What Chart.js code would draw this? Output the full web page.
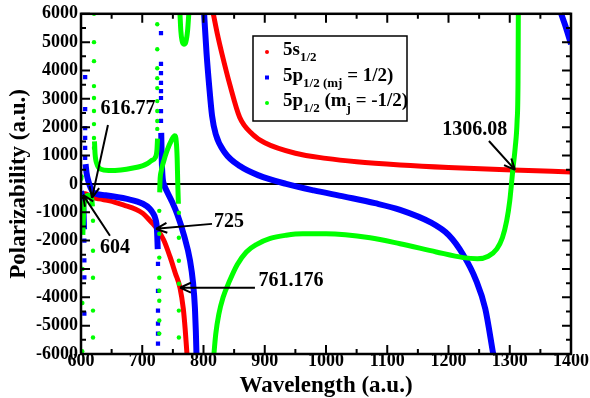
<!DOCTYPE html>
<html>
<head>
<meta charset="utf-8">
<script src="https://cdn.jsdelivr.net/npm/chart.js@4.4.0/dist/chart.umd.min.js"></script>
<style>
  html, body { margin: 0; padding: 0; background: #fff; }
</style>
</head>
<body>
<canvas id="chart" width="590" height="398"></canvas>
<script>
// axis ticks
const xTicks = [600, 700, 800, 900, 1000, 1100, 1200, 1300, 1400];
const yTicks = [-6000, -5000, -4000, -3000, -2000, -1000, 0, 1000, 2000, 3000, 4000, 5000, 6000];

// 5s1/2 (red)
const redLow = [[604,-330],[611,-380],[618,-470],[630,-530],[647,-600],[670,-750],[690,-900],[701,-1040],[712,-1280],[718,-1420],[724,-1580],[735,-1980],[745,-2550],[754,-3150],[761.6,-3660],[767,-4400],[770,-5100],[773,-6000]];
const redHigh = [[816,6000],[823,5250],[830,4600],[843,3500],[859,2350],[880,1750],[900,1450],[950,1080],[1000,900],[1050,780],[1121,669],[1200,580],[1305,493],[1400,422]];

// 5p1/2 mj = 1/2 (blue)
const blueA = [[600,-260],[601.5,-380],[603,-600],[604,-900],[605,-1600]];
const blueB = [[607.5,700],[609,400],[612,100],[616,-150],[620,-300],[640,-400],[675,-530],[701,-700],[712,-870],[718,-1050],[721,-1200],[724,-1600],[725.3,-2300]];
const blueC = [[731,1800],[731.8,900],[733,300],[736,-50],[740,-250],[748,-600],[757,-1060],[768,-1800],[778,-2700],[783,-3500],[786,-4370],[787.5,-5200],[788.5,-6000]];
const blueD = [[801,6000],[805,4600],[809.5,3400],[814,2400],[820,1750],[835,1100],[860,620],[890,300],[935,0],[980,-230],[1030,-450],[1080,-680],[1121,-915],[1170,-1350],[1200,-1800],[1224,-2500],[1245,-3400],[1260,-4400],[1273,-6000]];
const blueE = [[1384,6000],[1392,5500],[1400,4930]];
const blueDots = [[605.5,-2000],[605.5,-2700],[605.5,-3300],[605.5,-4580],
  [606.8,3770],[606.8,2640],[606.8,1970],[606.8,1620],[606.8,1270],[606.8,920],
  [725.7,-2820],[725.7,-3770],[725.7,-4470],[725.7,-4930],[725.7,-5280],[725.7,-5630],
  [730.6,5320],[730.6,4230],[730.6,3910],[730.6,3560],[730.6,3270],[730.6,3030],[730.6,2570],[730.6,2220]];

// 5p1/2 mj = -1/2 (green)
const greenA = [[603,-1800],[604.5,-900],[607,-550],[611,-400],[615,-420],[617.5,-520],[618.7,-800]];
const greenB = [[622,1500],[623,1050],[626,700],[632,520],[645,470],[665,490],[685,560],[700,640],[707,700],[715,820],[721,920],[724,1200],[725,1600]];
const greenC = [[728.5,-300],[729,100],[731,450],[735,800],[740,1150],[748,1550],[753,1700],[755.5,1500],[757,900],[758,0],[759,-700]];
const greenD = [[761.6,6000],[763,5400],[765,5050],[768,4930],[771,5000],[774,5400],[776,6000]];
const greenE = [[817,-6000],[820,-5300],[825,-4600],[832,-4000],[843,-3400],[855,-2850],[870,-2400],[887,-2130],[909,-1920],[935,-1810],[962,-1760],[1000,-1760],[1072,-1900],[1121,-2110],[1180,-2400],[1224,-2600],[1247,-2640],[1265,-2550],[1279,-2290],[1288,-1900],[1295,-1300],[1300,-600],[1305,490],[1309,1300],[1312,2220],[1313.5,3620],[1314,6000]];
const greenDots = [[600.5,180],[601,260],[602,-5900],[602.2,-4200],[602.5,-3000],
  [619.6,-1300],[619.6,-2360],[619.6,-3310],[619.6,-4470],[619.6,-5420],
  [621.2,6000],[621.2,5000],[621.2,4330],[621.2,3450],[621.2,3030],[621.2,2570],[621.2,2110],[621.2,1620],[621.2,1270],
  [724.5,5630],[724.5,4750],[724.5,4080],[724.5,3730],[724.5,3380],[724.5,2920],[724.5,2570],[724.5,2220],[724.5,1940],
  [727.8,-950],[727.8,-1760],[727.8,-2600],[727.8,-3310],[727.8,-3770],[727.8,-4120],[727.8,-4820],[727.8,-5280],
  [759.8,-1020],[759.8,-1900],[759.8,-2710],[759.8,-3520],[759.8,-4470],[759.8,-5420]];

// legend text: [text, isSubscript]
const legendColors = ['#ff0000', '#0000ff', '#00ff00'];
const legendLabels = [
  [['5s',0],['1/2',1]],
  [['5p',0],['1/2 (mj',1],[' = 1/2)',0]],
  [['5p',0],['1/2',1],[' (m',0],['j',1],[' = -1/2)',0]]
];

// annotations: label, arrow tip (x,y), arrow tail (x,y), label centre (x,y)
const annLabels = ['616.77', '604', '725', '761.176', '1306.08'];
const annTip = [[618,-493],[603.3,-387],[722.4,-1585],[761.6,-3660],[1308.6,493]];
const annTail = [[644,2080],[647.3,-1830],[813.9,-1410],[884,-3660],[1266,1514]];
const annText = [[676.7,2640],[655.5,-2250],[841.6,-1340],[942.9,-3415],[1243,1900]];

const serif = '"Liberation Serif", "Times New Roman", serif';

function line(data, color, width) {
  return { data: data, showLine: true, borderColor: color, borderWidth: width,
    pointRadius: 0, cubicInterpolationMode: 'monotone', clip: 0,
    order: color === '#00ff00' ? 1 : (color === '#0000ff' ? 2 : 3) };
}
function dots(data, color, style, r) {
  return { data: data, showLine: false, backgroundColor: color, borderColor: color, borderWidth: 0,
    pointStyle: style, pointRadius: r, clip: 0, order: color === '#00ff00' ? 1 : 2 };
}

function arrow(ctx, x1, y1, x2, y2) {
  const ang = Math.atan2(y2 - y1, x2 - x1);
  ctx.beginPath();
  ctx.moveTo(x1, y1);
  ctx.lineTo(x2, y2);
  [-1, 1].forEach(s => {
    ctx.moveTo(x2, y2);
    ctx.lineTo(x2 - 12 * Math.cos(ang + s * 0.42), y2 - 12 * Math.sin(ang + s * 0.42));
  });
  ctx.stroke();
}

const extras = {
  id: 'extras',
  beforeDatasetsDraw(chart) {
    const { ctx, chartArea: a, scales: { y } } = chart;
    const y0 = y.getPixelForValue(0);
    ctx.save();
    ctx.strokeStyle = '#000';
    ctx.lineWidth = 2;
    ctx.beginPath(); ctx.moveTo(a.left, y0); ctx.lineTo(a.right, y0); ctx.stroke();
    ctx.restore();
  },
  afterDatasetsDraw(chart) {
    const { ctx, chartArea: a, scales: { x, y } } = chart;
    ctx.save();
    // frame
    ctx.strokeStyle = '#000';
    ctx.lineWidth = 2.5;
    ctx.strokeRect(a.left, a.top, a.right - a.left, a.bottom - a.top);
    // inward ticks, all four sides
    ctx.lineWidth = 2;
    ctx.beginPath();
    for (let i = 0; i < xTicks.length; i++) {
      const px = x.getPixelForValue(xTicks[i]);
      ctx.moveTo(px, a.bottom); ctx.lineTo(px, a.bottom - 9);
      ctx.moveTo(px, a.top); ctx.lineTo(px, a.top + 9);
      if (i < xTicks.length - 1) {
        const pm = x.getPixelForValue((xTicks[i] + xTicks[i + 1]) / 2);
        ctx.moveTo(pm, a.bottom); ctx.lineTo(pm, a.bottom - 5);
        ctx.moveTo(pm, a.top); ctx.lineTo(pm, a.top + 5);
      }
    }
    for (let i = 0; i < yTicks.length; i++) {
      const py = y.getPixelForValue(yTicks[i]);
      ctx.moveTo(a.left, py); ctx.lineTo(a.left + 9, py);
      ctx.moveTo(a.right, py); ctx.lineTo(a.right - 9, py);
      if (i < yTicks.length - 1) {
        const pm = y.getPixelForValue((yTicks[i] + yTicks[i + 1]) / 2);
        ctx.moveTo(a.left, pm); ctx.lineTo(a.left + 5, pm);
        ctx.moveTo(a.right, pm); ctx.lineTo(a.right - 5, pm);
      }
    }
    ctx.stroke();

    // annotations
    ctx.lineWidth = 2;
    ctx.fillStyle = '#000';
    ctx.font = 'bold 20px ' + serif;
    ctx.textAlign = 'center';
    ctx.textBaseline = 'middle';
    annLabels.forEach((t, i) => {
      arrow(ctx, x.getPixelForValue(annTail[i][0]), y.getPixelForValue(annTail[i][1]),
        x.getPixelForValue(annTip[i][0]), y.getPixelForValue(annTip[i][1]));
      ctx.fillText(t, x.getPixelForValue(annText[i][0]), y.getPixelForValue(annText[i][1]));
    });

    // legend
    const lx = 253, ly = 36, lw = 154, lh = 85;
    ctx.fillStyle = '#fff';
    ctx.fillRect(lx, ly, lw, lh);
    ctx.lineWidth = 1.5;
    ctx.strokeRect(lx, ly, lw, lh);
    ctx.textAlign = 'left';
    ctx.textBaseline = 'alphabetic';
    legendLabels.forEach((parts, i) => {
      const base = 55 + i * 25.5;
      ctx.fillStyle = legendColors[i];
      if (i === 1) ctx.fillRect(265, base - 5, 4, 4);
      else { ctx.beginPath(); ctx.arc(267, base - 3, 2, 0, Math.PI * 2); ctx.fill(); }
      ctx.fillStyle = '#000';
      let cx = 283;
      parts.forEach(([t, sub]) => {
        ctx.font = sub ? 'bold 13px ' + serif : 'bold 19px ' + serif;
        ctx.fillText(t, cx, sub ? base + 6 : base);
        cx += ctx.measureText(t).width;
      });
    });
    ctx.restore();
  }
};

new Chart(document.getElementById('chart'), {
  type: 'scatter',
  data: {
    datasets: [
      line(redLow, '#ff0000', 5), line(redHigh, '#ff0000', 5),
      line(blueA, '#0000ff', 6), line(blueB, '#0000ff', 6), line(blueC, '#0000ff', 6),
      line(blueD, '#0000ff', 6), line(blueE, '#0000ff', 6),
      dots(blueDots, '#0000ff', 'rect', 3),
      line(greenA, '#00ff00', 5), line(greenB, '#00ff00', 5), line(greenC, '#00ff00', 5),
      line(greenD, '#00ff00', 5), line(greenE, '#00ff00', 5),
      dots(greenDots, '#00ff00', 'circle', 2.2)
    ]
  },
  options: {
    responsive: false,
    animation: false,
    layout: { padding: { top: 12, right: 19, left: 0, bottom: 0 } },
    plugins: { legend: { display: false }, tooltip: { enabled: false } },
    scales: {
      x: {
        type: 'linear', min: 600, max: 1400,
        afterFit: s => { s.height = 44; },
        afterBuildTicks: s => { s.ticks = xTicks.map(v => ({ value: v })); },
        grid: { display: false, drawTicks: false },
        border: { display: false },
        ticks: { color: '#000', font: { family: serif, size: 18, weight: 'bold' }, padding: -3,
          autoSkip: false, maxRotation: 0, callback: v => String(v) },
        title: { display: true, text: 'Wavelength (a.u.)', color: '#000',
          font: { family: serif, size: 23, weight: 'bold', lineHeight: 1 }, padding: { top: 0, bottom: 0 } }
      },
      y: {
        type: 'linear', min: -6000, max: 6000,
        afterFit: s => { s.width = 81; },
        afterBuildTicks: s => { s.ticks = yTicks.map(v => ({ value: v })); },
        grid: { display: false, drawTicks: false },
        border: { display: false },
        ticks: { color: '#000', font: { family: serif, size: 18, weight: 'bold' }, padding: 3,
          autoSkip: false, callback: v => String(v) },
        title: { display: true, text: 'Polarizability (a.u.)', color: '#000',
          font: { family: serif, size: 23, weight: 'bold', lineHeight: 1 }, padding: { top: 8, bottom: 0 } }
      }
    }
  },
  plugins: [extras]
});
</script>
</body>
</html>
